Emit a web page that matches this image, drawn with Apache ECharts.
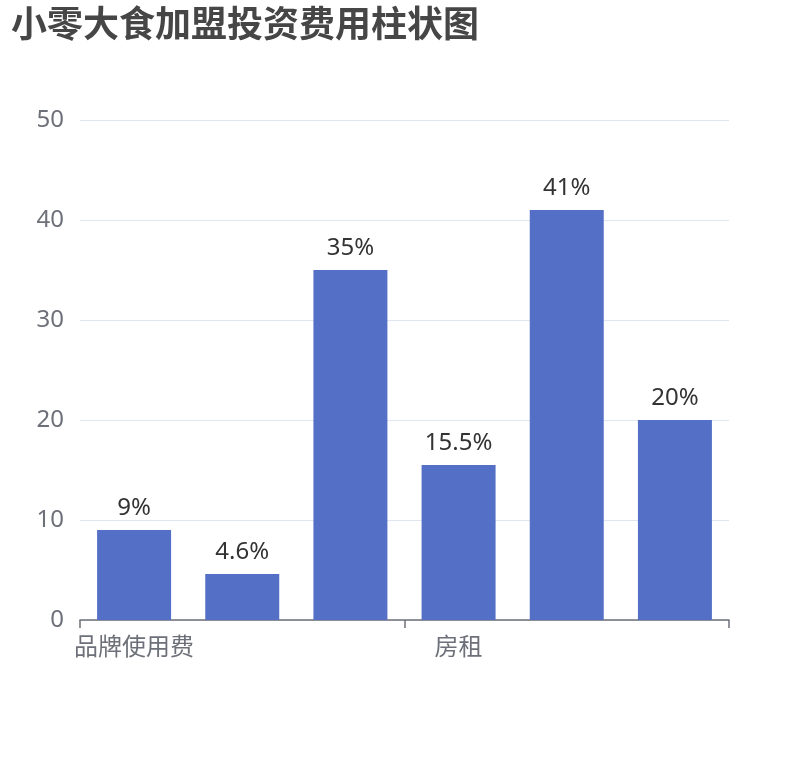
<!DOCTYPE html>
<html><head><meta charset="utf-8">
<script src="https://cdn.jsdelivr.net/npm/echarts@6/dist/echarts.min.js"></script>
<style>html,body{margin:0;padding:0;background:#fff}#c{width:810px;height:760px}</style>
</head><body><div id="c"></div>
<script>
var categories = ['品牌使用费', '加盟费', '装修设备费', '房租', '首批进货费', '流动资金'];
var values = [9, 4.6, 35, 15.5, 41, 20];
var labels = ['9%', '4.6%', '35%', '15.5%', '41%', '20%'];
var chart = echarts.init(document.getElementById('c'));
chart.setOption({
  title: { text: '小零大食加盟投资费用柱状图', left: 6, top: 0,
    textStyle: { fontSize: 36, fontWeight: 'bold', color: '#464646', fontFamily: 'Noto Sans CJK SC' } },
  grid: { left: 80, right: 81, top: 120, bottom: 140 },
  xAxis: { type: 'category', data: categories,
    axisLabel: { interval: 2, fontSize: 24, color: '#6e7079', margin: 14, fontFamily: 'Noto Sans CJK SC' },
    axisTick: { show: true, interval: 2, length: 8, lineStyle: { color: '#6e7079', width: 1.5 } },
    axisLine: { lineStyle: { color: '#6e7079', width: 1.5 } } },
  yAxis: { type: 'value', min: 0, max: 50, interval: 10,
    axisLabel: { fontSize: 24, color: '#6e7079', margin: 16, fontFamily: 'Noto Sans' },
    splitLine: { lineStyle: { color: '#e0e6f1' } } },
  series: [{ type: 'bar', data: values, barWidth: 74,
    itemStyle: { color: '#5470c6' },
    label: { show: true, position: 'top', distance: 10, fontSize: 24, color: '#333', fontFamily: 'Noto Sans',
      formatter: function (p) { return labels[p.dataIndex]; } } }]
});
</script></body></html>
